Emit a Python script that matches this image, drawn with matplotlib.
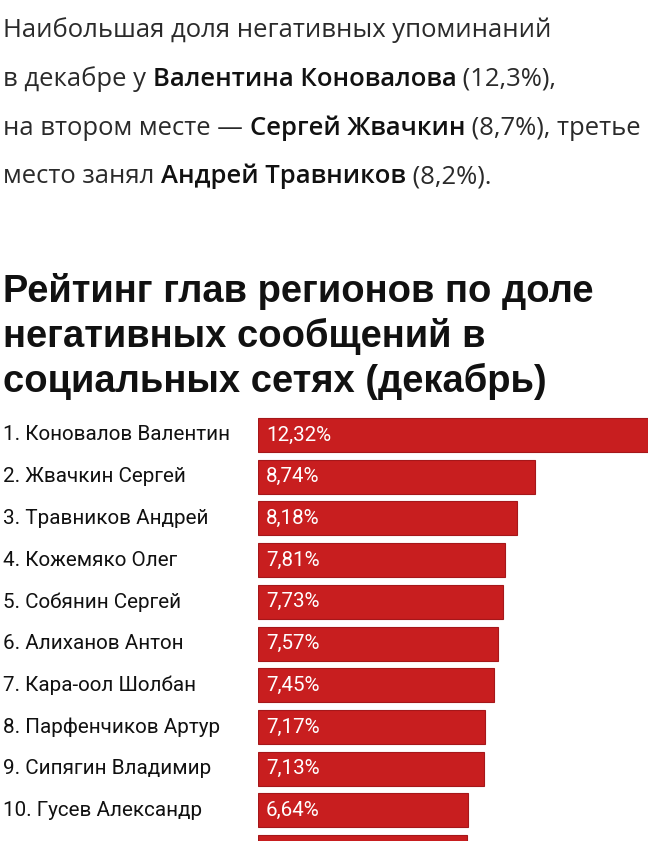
import matplotlib
matplotlib.use("Agg")
import matplotlib.pyplot as plt
import matplotlib.transforms as mtransforms

W, H = 650, 841

names = ["1. Коновалов Валентин", "2. Жвачкин Сергей", "3. Травников Андрей",
         "4. Кожемяко Олег", "5. Собянин Сергей", "6. Алиханов Антон",
         "7. Кара-оол Шолбан", "8. Парфенчиков Артур", "9. Сипягин Владимир",
         "10. Гусев Александр", ""]
values = [12.32, 8.74, 8.18, 7.81, 7.73, 7.57, 7.45, 7.17, 7.13, 6.64, 6.60]
value_labels = ["12,32%", "8,74%", "8,18%", "7,81%", "7,73%", "7,57%", "7,45%",
                "7,17%", "7,13%", "6,64%", ""]

intro_lines = [
    [("Наибольшая доля негативных упоминаний", False)],
    [("в декабре у ", False), ("Валентина Коновалова", True), (" (12,3%),", False)],
    [("на втором месте — ", False), ("Сергей Жвачкин", True), (" (8,7%), третье", False)],
    [("место занял ", False), ("Андрей Травников", True), (" (8,2%).", False)],
]
title_lines = ["Рейтинг глав регионов по доле",
               "негативных сообщений в",
               "социальных сетях (декабрь)"]

fig = plt.figure(figsize=(W / 100, H / 100), dpi=100)
fig.patch.set_facecolor("white")
renderer = fig.canvas.get_renderer()
px = mtransforms.Affine2D().scale(1, -1).translate(0, H)


def fit_size(text, family, weight, target, base=20):
    t = fig.text(0, 0, text, fontsize=base, family=family, weight=weight, transform=px)
    w = t.get_window_extent(renderer).width
    t.remove()
    return base * target / w


def draw_line(line, x, yb, size, family, bold_weight):
    for seg, bold in line:
        t = fig.text(x, yb, seg, fontsize=size, family=family,
                     weight=bold_weight if bold else "normal",
                     color="#111111" if bold else "#2a2a2a",
                     va="baseline", ha="left", transform=px)
        x = t.get_window_extent(renderer).x1
    return x


# Intro paragraph
intro_font = ["Open Sans", "DejaVu Sans"]
bold_w = "semibold"
s1 = fit_size(intro_lines[0][0][0], intro_font, "normal", 548)
# measure the longest mixed line and blend the two fits
probe = draw_line(intro_lines[2], 0, -100, 20, intro_font, bold_w)
for t in list(fig.texts):
    t.remove()
s3 = 20 * 632 / probe
isz = (s1 + s3) / 2
intro_base = [37, 86, 135, 183]
for line, yb in zip(intro_lines, intro_base):
    draw_line(line, 3, yb, isz, intro_font, bold_w)

# Title
title_font = ["Liberation Sans", "DejaVu Sans"]
tsz = fit_size(title_lines[0], title_font, "bold", 590)
for line, yb in zip(title_lines, [302, 347, 392]):
    fig.text(3, yb, line, fontsize=tsz, family=title_font, weight="bold",
             color="#111111", va="baseline", ha="left", transform=px)

# Bars
x0, x1 = 258, 648
top_px, step = 435, 41.7
ax_top, ax_bot = 410, H
ax = fig.add_axes([x0 / W, 0, (x1 - x0) / W, (ax_bot - ax_top) / H])
n = len(values)
ypos = list(range(n))
ax.barh(ypos, values, height=34 / step, color="#C81E1F", edgecolor="#A5171A",
        linewidth=0.8, align="center")
ax.set_xlim(0, values[0])
ax.set_ylim((ax_bot - top_px) / step, (ax_top - top_px) / step)
ax.axis("off")

lab_font = ["Roboto", "DejaVu Sans"]
lsz = fit_size(names[0], lab_font, "normal", 227)
vsz = fit_size(value_labels[0], lab_font, "normal", 65)
blend = mtransforms.blended_transform_factory(fig.transFigure, ax.transData)
for i, (nm, vl) in enumerate(zip(names, value_labels)):
    ax.text(3 / W, i, nm, transform=blend, fontsize=lsz, family=lab_font,
            color="#111111", va="center", ha="left", clip_on=False)
    ax.text(266 / W, i, vl, transform=blend, fontsize=vsz, family=lab_font,
            color="white", va="center", ha="left", clip_on=False)

fig.savefig("out.png", dpi=100, facecolor="white")
